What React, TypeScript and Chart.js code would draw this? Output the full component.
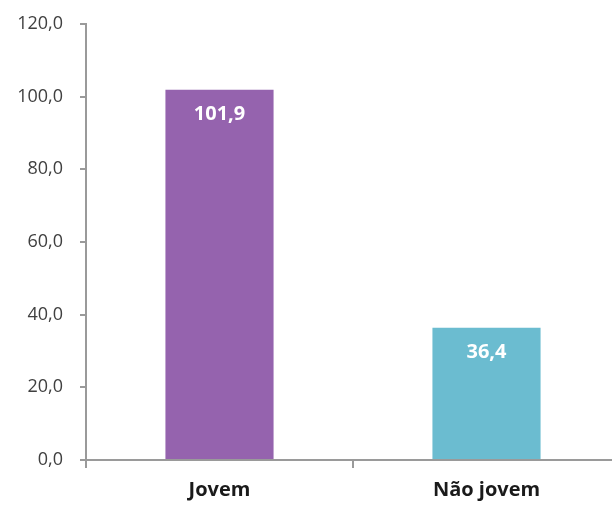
import React, { useEffect, useRef } from "react";
import { Chart, registerables } from "chart.js";

Chart.register(...registerables);

const categories = ["Jovem", "Não jovem"];
const values = [101.9, 36.4];
const barColors = ["#9563AE", "#6BBCD0"];
const yTicks = [0, 20, 40, 60, 80, 100, 120];

const fmt = (v: number) => v.toFixed(1).replace(".", ",");

const valueLabels = {
  id: "valueLabels",
  afterDatasetsDraw(chart: any) {
    const ctx = chart.ctx;
    const meta = chart.getDatasetMeta(0);
    ctx.save();
    ctx.fillStyle = "#ffffff";
    ctx.font = "bold 20px 'Open Sans'";
    ctx.textAlign = "center";
    ctx.textBaseline = "middle";
    meta.data.forEach((bar: any, i: number) => {
      ctx.fillText(fmt(values[i]), bar.x, bar.y + 25);
    });
    ctx.restore();
  },
};

export default function App() {
  const ref = useRef<HTMLCanvasElement | null>(null);
  useEffect(() => {
    if (!ref.current) return;
    const chart = new Chart(ref.current, {
      type: "bar",
      data: {
        labels: categories,
        datasets: [
          {
            data: values,
            backgroundColor: barColors,
            categoryPercentage: 1,
            barPercentage: 0.405,
          },
        ],
      },
      options: {
        animation: false,
        responsive: true,
        maintainAspectRatio: false,
        layout: { padding: { left: 0, top: 24, right: 0, bottom: 0 } },
        plugins: { legend: { display: false }, tooltip: { enabled: false } },
        scales: {
          y: {
            min: 0,
            max: 120,
            afterBuildTicks: (s: any) => {
              s.ticks = yTicks.map((v) => ({ value: v }));
            },
            afterFit: (s: any) => {
              s.width = 86;
              s.paddingTop = 0;
            },
            ticks: {
              callback: (v: any) => fmt(Number(v)),
              color: "#404040",
              font: { family: "'Open Sans'", size: 18 },
              padding: 17,
            },
            grid: {
              drawOnChartArea: false,
              drawTicks: true,
              tickLength: 6,
              color: "#9a9a9a",
              lineWidth: 2,
            },
            border: { color: "#9a9a9a", width: 2 },
          },
          x: {
            afterFit: (s: any) => {
              s.height = 45;
            },
            ticks: {
              color: "#1a1a1a",
              font: { family: "'Open Sans'", size: 20, weight: "bold" },
              padding: 10,
            },
            grid: {
              offset: true,
              drawOnChartArea: false,
              drawTicks: true,
              tickLength: 8,
              color: "#9a9a9a",
              lineWidth: 2,
            },
            border: { color: "#9a9a9a", width: 2 },
          },
        },
      },
      plugins: [valueLabels],
    });
    return () => chart.destroy();
  }, []);

  return (
    <div
      style={{
        position: "fixed",
        left: 0,
        top: 0,
        width: 612,
        height: 505,
        overflow: "hidden",
        background: "#fff",
      }}
    >
      <div style={{ width: 620, height: 505, position: "relative" }}>
        <canvas ref={ref} />
      </div>
    </div>
  );
}
